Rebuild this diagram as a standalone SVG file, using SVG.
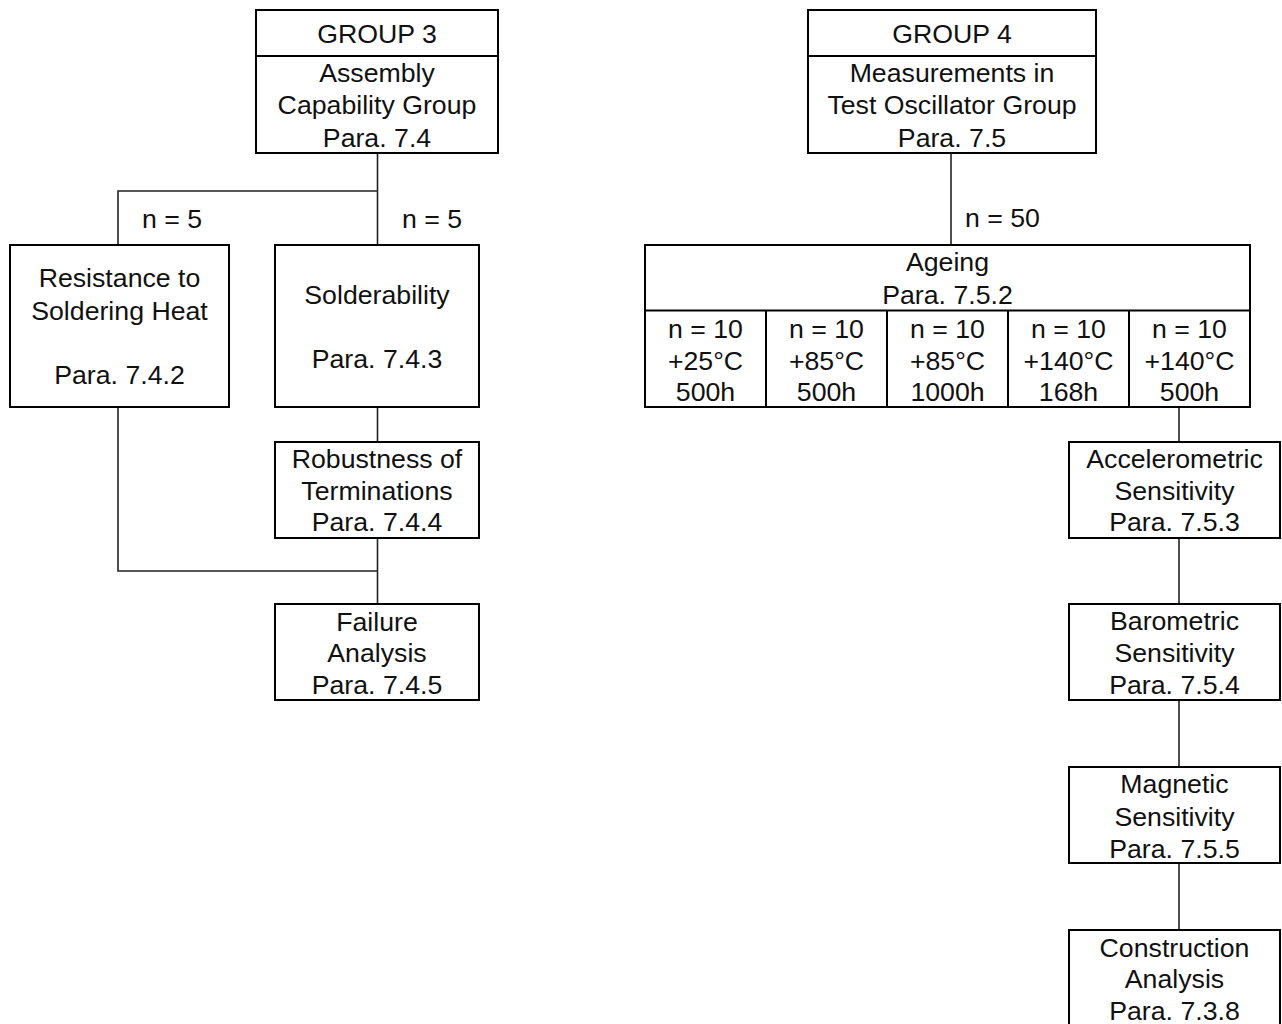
<svg xmlns="http://www.w3.org/2000/svg" width="1282" height="1024" viewBox="0 0 1282 1024">
<style>
.box{fill:#fff;stroke:#000;stroke-width:2}
.div{stroke:#000;stroke-width:2;fill:none}
.con{stroke:#222;stroke-width:1.6;fill:none}
text{font-family:"Liberation Sans",Arial,sans-serif;font-size:26.7px;fill:#111;text-anchor:middle}
.lbl{text-anchor:start}
</style>
<rect width="1282" height="1024" fill="#fff"/>
<g id="connectors">
<path class="con" d="M377.5 153V245"/>
<path class="con" d="M377.5 191H118V245"/>
<path class="con" d="M377.5 407V442"/>
<path class="con" d="M377.5 538V604"/>
<path class="con" d="M118 407V571H377.5"/>
<path class="con" d="M951 153V245"/>
<path class="con" d="M1179 407V442"/>
<path class="con" d="M1179 538V604"/>
<path class="con" d="M1179 700V767"/>
<path class="con" d="M1179 863V930"/>
<text class="lbl" x="142" y="228">n = 5</text>
<text class="lbl" x="402" y="228">n = 5</text>
<text class="lbl" x="965" y="227">n = 50</text>
</g>
<g id="group3">
<rect class="box" x="256" y="10" width="242" height="143"/>
<path class="div" d="M256 56H498"/>
<text x="377" y="43">GROUP 3</text>
<text x="377" y="82">Assembly</text>
<text x="377" y="114">Capability Group</text>
<text x="377" y="147">Para. 7.4</text>
</g>
<g id="resistance">
<rect class="box" x="10" y="245" width="219" height="162"/>
<text x="119.5" y="287">Resistance to</text>
<text x="119.5" y="320">Soldering Heat</text>
<text x="119.5" y="384">Para. 7.4.2</text>
</g>
<g id="solderability">
<rect class="box" x="275" y="245" width="204" height="162"/>
<text x="377" y="304">Solderability</text>
<text x="377" y="368">Para. 7.4.3</text>
</g>
<g id="robustness">
<rect class="box" x="275" y="442" width="204" height="96"/>
<text x="377" y="468">Robustness of</text>
<text x="377" y="500">Terminations</text>
<text x="377" y="531">Para. 7.4.4</text>
</g>
<g id="failure">
<rect class="box" x="275" y="604" width="204" height="96"/>
<text x="377" y="631">Failure</text>
<text x="377" y="662">Analysis</text>
<text x="377" y="694">Para. 7.4.5</text>
</g>
<g id="group4">
<rect class="box" x="808" y="10" width="288" height="143"/>
<path class="div" d="M808 56H1096"/>
<text x="952" y="43">GROUP 4</text>
<text x="952" y="82">Measurements in</text>
<text x="952" y="114">Test Oscillator Group</text>
<text x="952" y="147">Para. 7.5</text>
</g>
<g id="ageing">
<rect class="box" x="645" y="245" width="605" height="162"/>
<path class="div" d="M645 310.5H1250M766 310.5V407M887 310.5V407M1008 310.5V407M1129 310.5V407"/>
<text x="947.5" y="271">Ageing</text>
<text x="947.5" y="304">Para. 7.5.2</text>
<text x="705.5" y="338">n = 10</text>
<text x="705.5" y="370">+25°C</text>
<text x="705.5" y="401">500h</text>
<text x="826.5" y="338">n = 10</text>
<text x="826.5" y="370">+85°C</text>
<text x="826.5" y="401">500h</text>
<text x="947.5" y="338">n = 10</text>
<text x="947.5" y="370">+85°C</text>
<text x="947.5" y="401">1000h</text>
<text x="1068.5" y="338">n = 10</text>
<text x="1068.5" y="370">+140°C</text>
<text x="1068.5" y="401">168h</text>
<text x="1189.5" y="338">n = 10</text>
<text x="1189.5" y="370">+140°C</text>
<text x="1189.5" y="401">500h</text>
</g>
<g id="accelerometric">
<rect class="box" x="1069" y="442" width="211" height="96"/>
<text x="1174.5" y="468">Accelerometric</text>
<text x="1174.5" y="500">Sensitivity</text>
<text x="1174.5" y="531">Para. 7.5.3</text>
</g>
<g id="barometric">
<rect class="box" x="1069" y="604" width="211" height="96"/>
<text x="1174.5" y="630">Barometric</text>
<text x="1174.5" y="662">Sensitivity</text>
<text x="1174.5" y="694">Para. 7.5.4</text>
</g>
<g id="magnetic">
<rect class="box" x="1069" y="767" width="211" height="96"/>
<text x="1174.5" y="793">Magnetic</text>
<text x="1174.5" y="826">Sensitivity</text>
<text x="1174.5" y="858">Para. 7.5.5</text>
</g>
<g id="construction">
<rect class="box" x="1069" y="930" width="211" height="96"/>
<text x="1174.5" y="957">Construction</text>
<text x="1174.5" y="988">Analysis</text>
<text x="1174.5" y="1020">Para. 7.3.8</text>
</g>
</svg>
